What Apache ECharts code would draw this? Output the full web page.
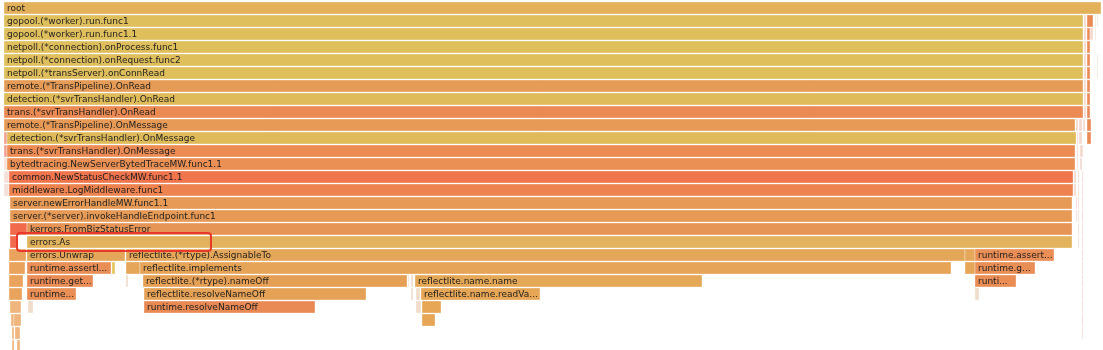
<!DOCTYPE html>
<html>
<head>
<meta charset="utf-8">
<style>
  html, body { margin: 0; padding: 0; background: #ffffff; }
  #chart { width: 1103px; height: 350px; }
</style>
<script src="https://cdn.jsdelivr.net/npm/echarts@6/dist/echarts.min.js"></script>
</head>
<body>
<div id="chart"></div>
<script>
// ---- DATA (flame graph frames: name, stack depth, start sample, end sample) ----
const frameName = [
  'root',
  'gopool.(*worker).run.func1', 'netpoll.(*defaultPoll).Wait', 'runtime.mcall', 'runtime.gcBgMarkWorker', 'runtime.bgsweep',
  'gopool.(*worker).run.func1.1', 'runtime.systemstack', 'runtime.mcall', 'runtime.systemstack', 'runtime.gcBgMarkWorker',
  'netpoll.(*connection).onProcess.func1', 'runtime.systemstack', 'runtime.mcall',
  'netpoll.(*connection).onRequest.func2', 'runtime.systemstack', 'runtime.mcall', 'runtime.gcBgMarkWorker',
  'netpoll.(*transServer).onConnRead', 'runtime.systemstack', 'runtime.mcall', 'runtime.gcBgMarkWorker',
  'remote.(*TransPipeline).OnRead', 'runtime.systemstack', 'runtime.mcall',
  'detection.(*svrTransHandler).OnRead', 'runtime.systemstack', 'runtime.mcall',
  'trans.(*svrTransHandler).OnRead', 'runtime.systemstack', 'runtime.mcall',
  'remote.(*TransPipeline).OnMessage', 'runtime.systemstack', 'runtime.systemstack', 'runtime.systemstack', 'runtime.mcall',
  'runtime.deferreturn', 'detection.(*svrTransHandler).OnMessage', 'runtime.systemstack', 'runtime.systemstack', 'runtime.mcall',
  'runtime.deferreturn', 'trans.(*svrTransHandler).OnMessage', 'runtime.systemstack', 'runtime.systemstack',
  'runtime.newproc', 'bytedtracing.NewServerBytedTraceMW.func1.1', 'runtime.systemstack', 'runtime.systemstack',
  'runtime.newproc', 'common.NewStatusCheckMW.func1.1', 'runtime.systemstack', 'runtime.systemstack', 'runtime.systemstack',
  'runtime.newproc', 'middleware.LogMiddleware.func1', 'runtime.systemstack', 'runtime.systemstack', 'runtime.systemstack',
  'server.newErrorHandleMW.func1.1', 'runtime.systemstack', 'runtime.systemstack', 'runtime.systemstack',
  'server.(*server).invokeHandleEndpoint.func1', 'runtime.systemstack', 'runtime.systemstack', 'runtime.systemstack',
  'runtime.convT', 'kerrors.FromBizStatusError', 'runtime.systemstack', 'runtime.systemstack',
  'runtime.mallocgc', 'errors.As', 'runtime.systemstack', 'runtime.systemstack',
  'runtime.newobject', 'errors.Unwrap', 'reflectlite.(*rtype).AssignableTo', 'reflectlite.(*rtype).Kind', 'runtime.assert...', 'runtime.systemstack',
  'runtime.newobject', 'runtime.assertI...', 'runtime.typehash', 'reflectlite.(*rtype).common', 'reflectlite.implements', 'reflectlite.(*rtype).common', 'runtime.g...', 'runtime.systemstack',
  'runtime.newobject', 'runtime.get...', 'runtime.add', 'reflectlite.(*rtype).nameOff', 'runtime.add', 'runtime.add', 'reflectlite.name.name', 'runti...', 'runtime.systemstack',
  'runtime.newobject', 'runtime...', 'reflectlite.resolveNameOff', 'runtime.add', 'runtime.add', 'reflectlite.name.readVar...', 'runtime.add', 'runtime.systemstack',
  'runtime.heapBits', 'runtime.add', 'runtime.resolveNameOff', 'runtime.add', 'reflectlite.name.data', 'runtime.systemstack',
  'runtime.heapBits', 'runtime.heapBits', 'reflectlite.add', 'runtime.systemstack',
  'runtime.heapBits', 'runtime.heapBits', 'runtime.systemstack',
  'runtime.heapBits', 'runtime.heapBits'
];
const frameDepth = [
  0,
  1, 1, 1, 1, 1,
  2, 2, 2, 2, 2,
  3, 3, 3,
  4, 4, 4, 4,
  5, 5, 5, 5,
  6, 6, 6,
  7, 7, 7,
  8, 8, 8,
  9, 9, 9, 9, 9,
  10, 10, 10, 10, 10,
  11, 11, 11, 11,
  12, 12, 12, 12,
  13, 13, 13, 13, 13,
  14, 14, 14, 14, 14,
  15, 15, 15, 15,
  16, 16, 16, 16,
  17, 17, 17, 17,
  18, 18, 18, 18,
  19, 19, 19, 19, 19, 19,
  20, 20, 20, 20, 20, 20, 20, 20,
  21, 21, 21, 21, 21, 21, 21, 21, 21,
  22, 22, 22, 22, 22, 22, 22, 22,
  23, 23, 23, 23, 23, 23,
  24, 24, 24, 24,
  25, 25, 25,
  26, 26
];
const frameStart = [
  4,
  4, 1084, 1087, 1095, 1097,
  4, 1084, 1087, 1090, 1095,
  4, 1084, 1087,
  4, 1084, 1087, 1097,
  4, 1084, 1087, 1097,
  4, 1084, 1087,
  4, 1084, 1087,
  4, 1084, 1087,
  4, 1076, 1079, 1083, 1087,
  4, 7, 1077, 1079, 1087,
  4, 7, 1077, 1080,
  4, 7, 1077, 1080,
  4, 9, 1074, 1078, 1082,
  4, 9, 1074, 1078, 1082,
  10, 1076, 1078, 1082,
  10, 1076, 1078, 1082,
  10, 27, 1078, 1082,
  10, 27, 1078, 1082,
  9, 27, 126, 965, 975, 1082,
  9, 27, 112, 126, 140, 965, 975, 1082,
  9, 27, 126, 143, 408, 411, 415, 975, 1082,
  9, 27, 144, 411, 416, 421, 975, 1082,
  10, 28, 144, 416, 422, 1082,
  11, 14, 422, 1082,
  12, 15, 1082,
  12, 17
];
const frameEnd = [
  1101,
  1083, 1086, 1093, 1096, 1098,
  1083, 1086, 1090, 1093, 1096,
  1083, 1086, 1090,
  1083, 1086, 1090, 1098,
  1083, 1086, 1090, 1098,
  1083, 1086, 1090,
  1083, 1086, 1090,
  1083, 1086, 1090,
  1075, 1078, 1082, 1085, 1091,
  7, 1076, 1078, 1082, 1091,
  7, 1075, 1078, 1083,
  7, 1075, 1078, 1082,
  9, 1073, 1076, 1079, 1083,
  9, 1073, 1076, 1079, 1083,
  1072, 1077, 1079, 1083,
  1072, 1077, 1079, 1083,
  27, 1072, 1079, 1083,
  17, 1072, 1079, 1083,
  26, 125, 965, 975, 1054, 1083,
  25, 111, 115, 140, 951, 975, 1035, 1083,
  23, 93, 128, 407, 409, 413, 702, 1016, 1083,
  22, 76, 366, 413, 420, 540, 979, 1083,
  21, 33, 315, 421, 441, 1083,
  14, 21, 435, 1083,
  14, 20, 1083,
  14, 20
];
// highlighted frame box (annotation): start, end, top depth, bottom depth
const highlightBox = [17, 211, 17.77, 19.15];

// ---- STYLE ----
const frameColor = {
  'root': '#e2b15a',
  'gopool.(*worker).run.func1': '#dfbe5c',
  'gopool.(*worker).run.func1.1': '#dfbe5c',
  'netpoll.(*connection).onProcess.func1': '#dfbe5c',
  'netpoll.(*connection).onRequest.func2': '#dfbe5c',
  'netpoll.(*transServer).onConnRead': '#dfbe5c',
  'remote.(*TransPipeline).OnRead': '#e69c56',
  'detection.(*svrTransHandler).OnRead': '#dfbb5a',
  'trans.(*svrTransHandler).OnRead': '#eb8a52',
  'remote.(*TransPipeline).OnMessage': '#e79a55',
  'detection.(*svrTransHandler).OnMessage': '#dfba59',
  'trans.(*svrTransHandler).OnMessage': '#ec8b53',
  'bytedtracing.NewServerBytedTraceMW.func1.1': '#eb9054',
  'common.NewStatusCheckMW.func1.1': '#f0744c',
  'middleware.LogMiddleware.func1': '#ee8350',
  'server.newErrorHandleMW.func1.1': '#e69a55',
  'server.(*server).invokeHandleEndpoint.func1': '#e69a56',
  'kerrors.FromBizStatusError': '#e69557',
  'errors.As': '#e2b35c',
  'errors.Unwrap': '#e4a658',
  'reflectlite.(*rtype).AssignableTo': '#e4a658',
  'reflectlite.(*rtype).Kind': '#e5a75a',
  'runtime.assert...': '#ea8e55',
  'runtime.assertI...': '#e98f55',
  'runtime.typehash': '#e3c65c',
  'reflectlite.(*rtype).common': '#e6a658',
  'reflectlite.implements': '#e6a456',
  'runtime.g...': '#e98e55',
  'runtime.get...': '#ea8c55',
  'reflectlite.(*rtype).nameOff': '#e6a055',
  'reflectlite.name.name': '#e5a856',
  'runti...': '#e98d55',
  'runtime...': '#e98e55',
  'reflectlite.resolveNameOff': '#e5a155',
  'reflectlite.name.readVar...': '#e6a656',
  'runtime.resolveNameOff': '#e98a55',
  'reflectlite.name.data': '#e6a656',
  'reflectlite.add': '#e6a656',
  'runtime.add': '#f0dccb',
  'runtime.convT': '#f16a4b',
  'runtime.mallocgc': '#f16a4b',
  'runtime.newobject': '#e9a35c',
  'runtime.heapBits': '#efb57c',
  'netpoll.(*defaultPoll).Wait': '#f2d6cc',
  'runtime.systemstack': '#f2d8ce',
  'runtime.mcall': '#ea8a55',
  'runtime.gcBgMarkWorker': '#efe2cf',
  'runtime.bgsweep': '#efe2cf',
  'runtime.deferreturn': '#f0a08c',
  'runtime.newproc': '#f4e0d8'
};
const defaultColor = '#e6a658';

const frameData = frameName.map((n, i) => [frameStart[i], frameEnd[i], frameDepth[i], i]);

const chart = echarts.init(document.getElementById('chart'), null, { renderer: 'canvas' });

chart.setOption({
  animation: false,
  backgroundColor: '#ffffff',
  grid: { left: 0, right: 0, top: 2, bottom: 0 },
  xAxis: { type: 'value', min: 0, max: 1103, show: false },
  yAxis: { type: 'value', min: 0, max: 348 / 13, inverse: true, show: false },
  series: [
    {
      type: 'custom',
      data: frameData,
      clip: true,
      renderItem: function (params, api) {
        const s = api.value(0), e = api.value(1), d = api.value(2), idx = api.value(3);
        const p0 = api.coord([s, d]);
        const p1 = api.coord([e, d + 1]);
        const x = p0[0], y = p0[1];
        const w = p1[0] - p0[0];
        const h = p1[1] - p0[1] - 1;
        const name = frameName[idx];
        const fill = frameColor[name] || defaultColor;
        const children = [{
          type: 'rect',
          shape: { x: x, y: y, width: w, height: h },
          style: { fill: fill, stroke: 'rgba(255,255,255,0.35)', lineWidth: 1 }
        }];
        if (w > 24) {
          children.push({
            type: 'text',
            style: {
              text: name,
              x: x + 3,
              y: y + h / 2 + 0.5,
              verticalAlign: 'middle',
              align: 'left',
              font: '9px "DejaVu Sans"',
              fill: '#1e1e1e',
              width: w - 2,
              overflow: 'truncate',
              ellipsis: '...'
            }
          });
        }
        return { type: 'group', children: children };
      }
    },
    {
      type: 'custom',
      data: [highlightBox],
      z: 10,
      renderItem: function (params, api) {
        const p0 = api.coord([api.value(0), api.value(2)]);
        const p1 = api.coord([api.value(1), api.value(3)]);
        return {
          type: 'rect',
          shape: { x: p0[0], y: p0[1], width: p1[0] - p0[0], height: p1[1] - p0[1], r: 3 },
          style: { fill: 'none', stroke: '#e8392a', lineWidth: 2 }
        };
      }
    }
  ]
});
</script>
</body>
</html>
